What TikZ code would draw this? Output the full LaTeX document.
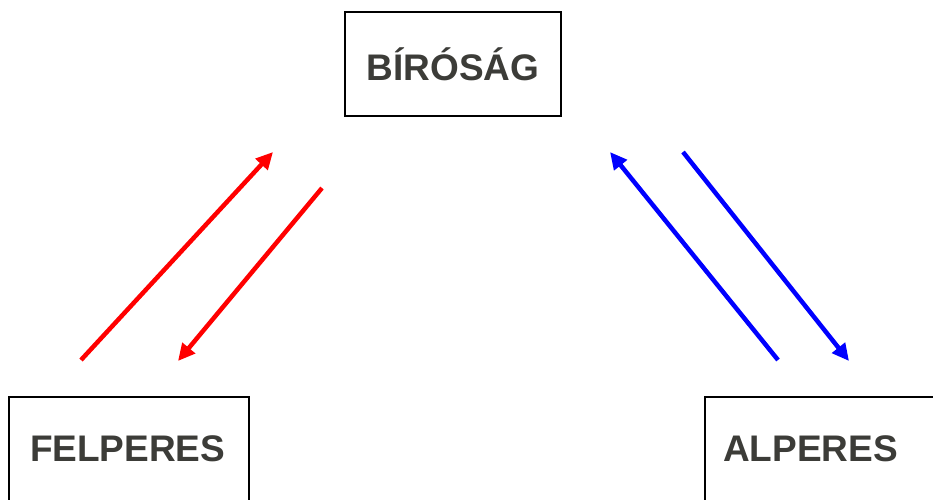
\documentclass[tikz,border=0pt]{standalone}
\usepackage{fontspec}
\setmainfont{Liberation Sans}
\usetikzlibrary{arrows.meta}
\definecolor{txtgray}{RGB}{60,60,56}
\begin{document}
\begin{tikzpicture}[
   x=1pt, y=-1pt,
   court/.style={draw, line width=2pt, minimum width=216pt, minimum height=104pt, font=\bfseries\fontsize{37}{40}\selectfont, text=txtgray},
   party/.style={draw, line width=2pt, minimum width=240pt, minimum height=104pt, inner xsep=0pt, text width=202pt, align=left, font=\bfseries\fontsize{37}{40}\selectfont, text=txtgray},
   redarrow/.style={-{Triangle[length=17pt,width=16pt]}, line width=4.5pt, red},
   bluearrow/.style={-{Triangle[length=17pt,width=16pt]}, line width=4.5pt, blue}
]
\useasboundingbox (0,0) rectangle (933,499);

% boxes
\node[court] (birosag) at (453,64) {BÍRÓSÁG};
\node[party] (felperes) at (129,449) {\hspace*{2pt}FELPERES};
\node[party] (alperes) at (825,449) {\hspace*{-1pt}ALPERES};

% red arrows
\coordinate (f1) at (81,360);
\coordinate (f2) at (273,152);
\coordinate (f3) at (322,188);
\coordinate (f4) at (178,361);
\draw[redarrow] (f1) -- (f2);
\draw[redarrow] (f3) -- (f4);

% blue arrows
\coordinate (a1) at (778,360);
\coordinate (a2) at (610,152);
\coordinate (a3) at (683,152);
\coordinate (a4) at (849,361);
\draw[bluearrow] (a1) -- (a2);
\draw[bluearrow] (a3) -- (a4);

\end{tikzpicture}
\end{document}
